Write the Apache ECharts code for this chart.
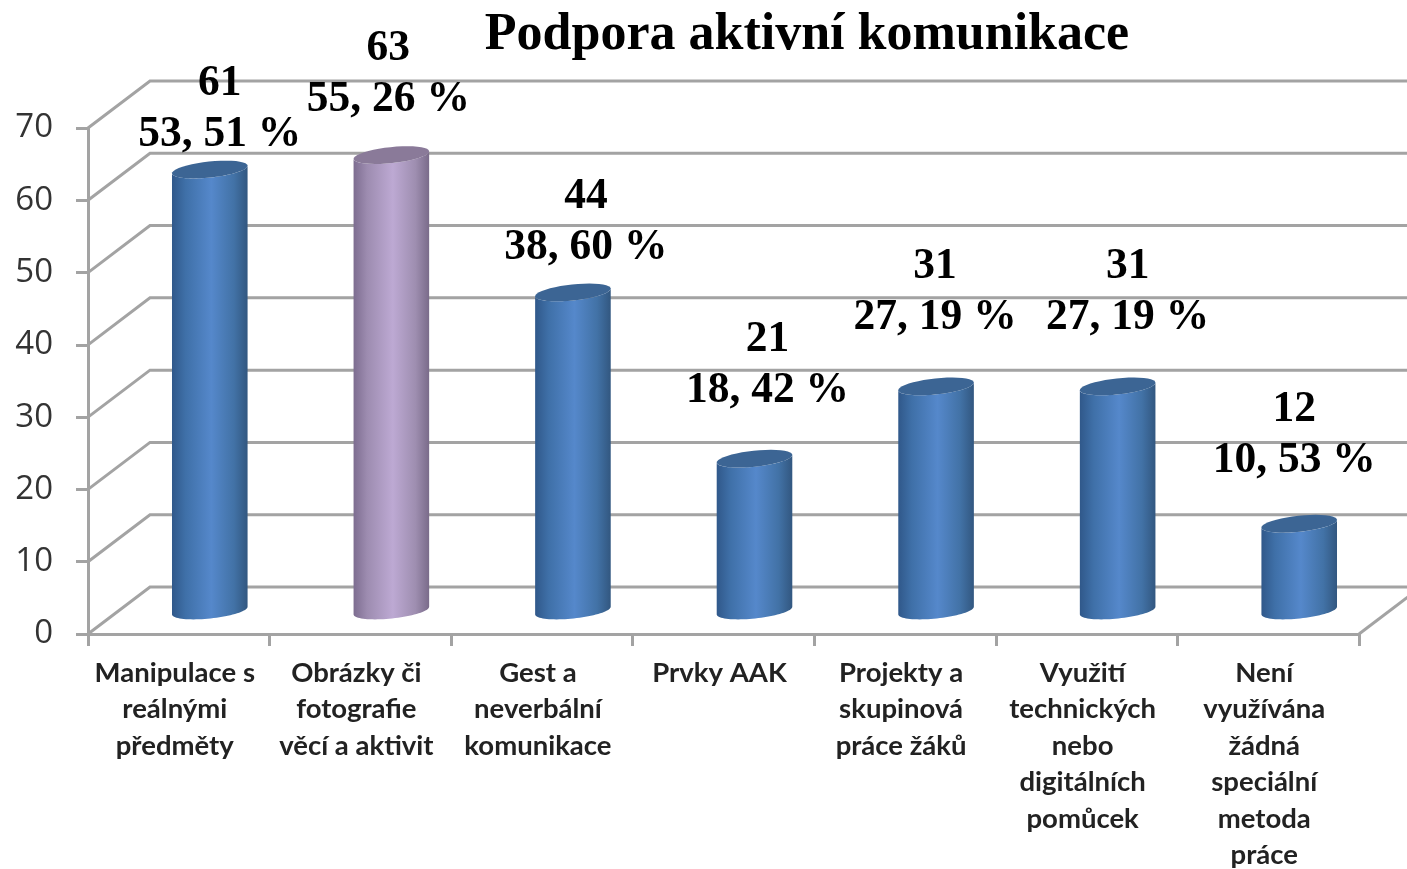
<!DOCTYPE html>
<html>
<head>
<meta charset="utf-8">
<title>Podpora aktivní komunikace</title>
<script src="https://cdn.jsdelivr.net/npm/echarts@6/dist/echarts.min.js"></script>
<style>
  html, body { margin: 0; padding: 0; background: #fff; }
  #chart { width: 1407px; height: 869px; }
</style>
</head>
<body>
<div id="chart"></div>
<script>
const chartTitle = 'Podpora aktivní komunikace'
const categories = [
  'Manipulace s\nreálnými\npředměty',
  'Obrázky či\nfotografie\nvěcí a aktivit',
  'Gest a\nneverbální\nkomunikace',
  'Prvky AAK',
  'Projekty a\nskupinová\npráce žáků',
  'Využití\ntechnických\nnebo\ndigitálních\npomůcek',
  'Není\nvyužívána\nžádná\nspeciální\nmetoda\npráce'
]
const counts = [61, 63, 44, 21, 31, 31, 12]
const percents = ['53, 51 %', '55, 26 %', '38, 60 %', '18, 42 %', '27, 19 %', '27, 19 %', '10, 53 %']
const yTicks = [0, 10, 20, 30, 40, 50, 60, 70]
const highlighted = 1 // the purple column

// hand placed data labels, relative to the top of each column
const labelShift = [[10, -35], [-3, -55], [13, -45], [13, -68], [-1, -69], [10, -69], [-5, -63]]

// fake 3d depth of the chart box
const depthX = 62
const depthY = 47
const barRx = 38
const barRy = 8
const barTilt = -6 * Math.PI / 180

const blue = { side: ['#30588a', '#3f70a8', '#5588cb', '#4272a6', '#325780'], top: '#3c6594' }
const purple = { side: ['#7d6d90', '#9d8cb0', '#bda9d3', '#9e8eb0', '#7a6b8a'], top: '#8a7a99' }

function ellipsePoint(cx, cy, t) {
  const c = Math.cos(t), s = Math.sin(t)
  return [
    cx + barRx * c * Math.cos(barTilt) - barRy * s * Math.sin(barTilt),
    cy + barRx * c * Math.sin(barTilt) + barRy * s * Math.cos(barTilt)
  ]
}

function ellipseArc(cx, cy, from, to) {
  const pts = []
  for (let i = 0; i <= 40; i++) {
    pts.push(ellipsePoint(cx, cy, from + (to - from) * i / 40))
  }
  return pts
}

function renderWall(params, api) {
  const box = params.coordSys
  const y = api.coord([0, api.value(1)])[1]
  const line = [
    [box.x, y],
    [box.x + depthX, y - depthY],
    [box.x + box.width + depthX, y - depthY]
  ]
  const children = [{
    type: 'polyline',
    shape: { points: line },
    style: { stroke: '#a3a3a3', lineWidth: 3, fill: null }
  }]
  if (api.value(1) === 0) {
    children.push({
      type: 'line',
      shape: { x1: box.x + box.width, y1: y, x2: box.x + box.width + depthX, y2: y - depthY },
      style: { stroke: '#a3a3a3', lineWidth: 3 }
    })
  }
  return { type: 'group', children }
}

function renderColumn(params, api) {
  const i = api.value(0)
  const top = api.coord([i, api.value(1)])
  const base = api.coord([i, 0])
  const cx = top[0] + depthX / 2
  const yTop = top[1] - depthY / 2
  const yBase = base[1] - depthY / 2
  const look = i === highlighted ? purple : blue
  const stops = [0, 0.18, 0.52, 0.82, 1].map((offset, n) => ({ offset, color: look.side[n] }))
  const body = ellipseArc(cx, yBase, 0, Math.PI).concat(ellipseArc(cx, yTop, Math.PI, 0))
  const shift = labelShift[i]
  const labelStyle = {
    fontFamily: '"Liberation Serif", serif',
    fontWeight: 'bold',
    fontSize: 43.5,
    fill: '#000',
    align: 'center',
    verticalAlign: 'middle'
  }
  return {
    type: 'group',
    children: [
      {
        type: 'polygon',
        shape: { points: body },
        style: { fill: { type: 'linear', x: 0, y: 0, x2: 1, y2: 0, colorStops: stops } }
      },
      {
        type: 'polygon',
        shape: { points: ellipseArc(cx, yTop, 0, Math.PI * 2) },
        style: { fill: look.top }
      },
      {
        type: 'text',
        style: Object.assign({ text: String(counts[i]), x: cx + shift[0], y: yTop + shift[1] - 51 }, labelStyle)
      },
      {
        type: 'text',
        style: Object.assign({ text: percents[i], x: cx + shift[0], y: yTop + shift[1] }, labelStyle)
      }
    ]
  }
}

const chart = echarts.init(document.getElementById('chart'))
chart.setOption({
  backgroundColor: '#fff',
  animation: false,
  title: {
    text: chartTitle,
    left: 802,
    top: 5,
    textAlign: 'center',
    textStyle: {
      fontFamily: '"Liberation Serif", serif',
      fontWeight: 'bold',
      fontSize: 52,
      color: '#000'
    }
  },
  grid: { left: 88, right: 48, top: 128, bottom: 235, outerBoundsMode: 'none' },
  xAxis: {
    type: 'category',
    data: categories,
    axisLine: { lineStyle: { color: '#a3a3a3', width: 3 } },
    axisTick: { show: true, length: 12, alignWithLabel: false, lineStyle: { color: '#a3a3a3', width: 3 } },
    axisLabel: {
      interval: 0,
      margin: 21,
      padding: [0, 8, 0, 0],
      fontFamily: 'Lato, sans-serif',
      fontWeight: 'bold',
      fontSize: 27.5,
      lineHeight: 36.4,
      color: '#222'
    }
  },
  yAxis: {
    type: 'value',
    min: 0,
    max: 70,
    interval: 10,
    splitLine: { show: false },
    axisLine: { show: true, lineStyle: { color: '#a3a3a3', width: 3 } },
    axisTick: { show: true, length: 12, lineStyle: { color: '#a3a3a3', width: 3 } },
    axisLabel: {
      margin: 35,
      padding: [3, 0, 0, 0],
      fontFamily: '"Open Sans", sans-serif',
      fontSize: 33,
      color: '#333'
    }
  },
  series: [
    {
      type: 'custom',
      silent: true,
      clip: false,
      z: 1,
      renderItem: renderWall,
      data: yTicks.map(t => [0, t])
    },
    {
      type: 'custom',
      silent: true,
      clip: false,
      z: 2,
      renderItem: renderColumn,
      data: counts.map((v, i) => [i, v])
    }
  ]
})
</script>
</body>
</html>
